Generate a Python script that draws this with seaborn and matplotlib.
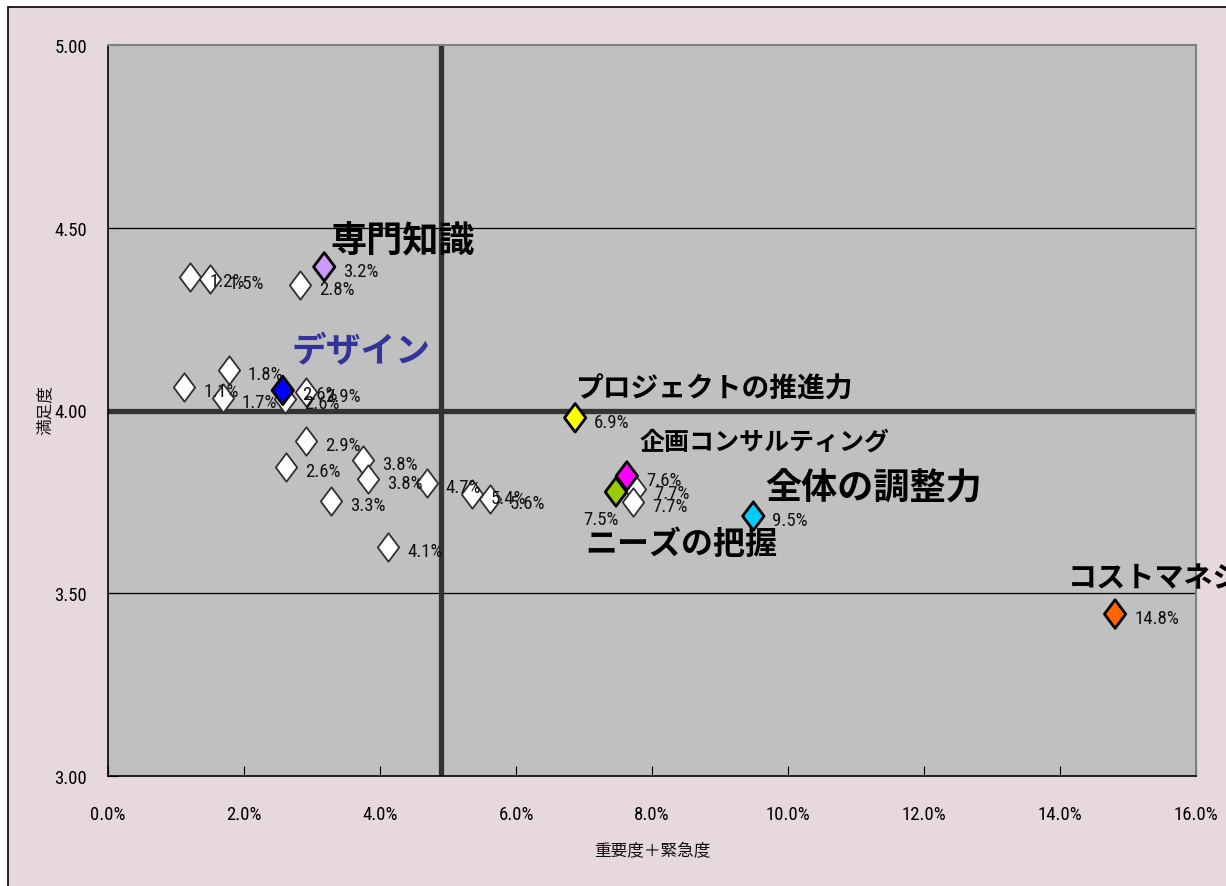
import numpy as np
import pandas as pd
import matplotlib
matplotlib.use("Agg")
import matplotlib.pyplot as plt
from matplotlib.path import Path
from matplotlib.markers import MarkerStyle
from matplotlib.patches import Rectangle
import matplotlib.ticker as mticker
from matplotlib import font_manager
import seaborn as sns

# ---------------- data ----------------
labels = ["1.2%", "1.5%", "2.8%", "3.2%", "1.8%", "1.1%", "1.7%", "2.6%", "2.6%", "2.9%",
          "2.9%", "2.6%", "3.8%", "3.8%", "3.3%", "4.7%", "5.4%", "5.6%", "4.1%",
          "6.9%", "7.6%", "7.5%", "7.7%", "7.7%", "9.5%", "14.8%"]
x_vals = [1.21, 1.50, 2.82, 3.18, 1.78, 1.12, 1.69, 2.57, 2.60, 2.91,
          2.91, 2.62, 3.75, 3.82, 3.28, 4.69, 5.35, 5.62, 4.12,
          6.87, 7.63, 7.47, 7.75, 7.72, 9.49, 14.81]
y_vals = [4.365, 4.360, 4.343, 4.393, 4.110, 4.064, 4.034, 4.055, 4.031, 4.050,
          3.917, 3.845, 3.865, 3.813, 3.752, 3.802, 3.772, 3.758, 3.627,
          3.980, 3.821, 3.777, 3.785, 3.750, 3.711, 3.443]
groups = ["その他", "その他", "その他", "専門知識", "その他", "その他", "その他", "デザイン", "その他", "その他",
          "その他", "その他", "その他", "その他", "その他", "その他", "その他", "その他", "その他",
          "プロジェクトの推進力", "企画コンサルティング", "ニーズの把握", "その他", "その他",
          "全体の調整力", "コストマネジメント"]
group_colors = {"その他": "#FFFFFF", "専門知識": "#CC99FF", "デザイン": "#0000FF",
                "プロジェクトの推進力": "#FFFF00", "企画コンサルティング": "#FF00FF",
                "ニーズの把握": "#99CC00", "全体の調整力": "#00CCFF",
                "コストマネジメント": "#FF6600"}
big_label_color = {"デザイン": "#333399"}
x_ref = 4.9
y_ref = 4.0
x_ticks = [0, 2, 4, 6, 8, 10, 12, 14, 16]
y_ticks = [3.0, 3.5, 4.0, 4.5, 5.0]

df = pd.DataFrame({"x": x_vals, "y": y_vals, "label": labels, "group": groups})

# ---------------- style ----------------
sns.set_theme(style="white")
avail = {f.name for f in font_manager.fontManager.ttflist}
narrow_candidates = ["Liberation Sans Narrow", "DejaVu Sans Condensed", "Roboto Condensed",
                     "Open Sans Condensed"]
narrow = [f for f in narrow_candidates if f in avail] + ["DejaVu Sans"]
cond_faces = [f for f in font_manager.fontManager.ttflist
              if f.name == "DejaVu Sans" and f.stretch == "condensed"]
stretch = "condensed" if (len(narrow) == 1 and cond_faces) else "normal"
cjk = ["Noto Sans CJK JP", "DejaVu Sans"]
plt.rcParams["font.family"] = narrow
plt.rcParams["font.stretch"] = stretch
num_fs = 13.5 if len(narrow) > 1 or stretch == "condensed" else 11

W, H = 1226, 887
fig = plt.figure(figsize=(W / 100, H / 100), dpi=100, facecolor="white")
fig.patches.append(Rectangle((8 / W, -0.1), 1.2, 1 - 8 / H + 0.1, transform=fig.transFigure,
                             facecolor="#E6D8DC", edgecolor="black", linewidth=1.2, zorder=-10))

ax = fig.add_axes([108 / W, 1 - 777 / H, (1196 - 108) / W, (777 - 46) / H])
ax.set_facecolor("#C0C0C0")

# tall diamond marker
diamond = MarkerStyle(Path([(0, 1), (0.75, 0), (0, -1), (-0.75, 0), (0, 1)],
                           [Path.MOVETO, Path.LINETO, Path.LINETO, Path.LINETO, Path.CLOSEPOLY]))

# reference lines and grid
for yv in [3.5, 4.5]:
    ax.axhline(yv, color="black", lw=0.9, zorder=1)
ax.axhline(y_ref, color="#333333", lw=3.8, zorder=2)
ax.axvline(x_ref, color="#333333", lw=3.8, zorder=2)

others = df[df.group == "その他"]
hl = df[df.group != "その他"]
sns.scatterplot(data=others, x="x", y="y", marker=diamond, s=420, color="white",
                edgecolor="#303030", linewidth=1.3, ax=ax, zorder=3, legend=False)
sns.scatterplot(data=hl, x="x", y="y", hue="group", palette=group_colors, marker=diamond, s=420,
                edgecolor="black", linewidth=2.0, ax=ax, zorder=4, legend=False)

# percentage labels
for _, r in df.iterrows():
    if r.label == "7.5%" and r.group == "ニーズの把握":
        ax.annotate(r.label, (r.x, r.y), xytext=(3, -27), textcoords="offset pixels",
                    ha="right", va="center", fontsize=num_fs, family=narrow, stretch=stretch,
                    color="#111111", zorder=5)
    else:
        ax.annotate(r.label, (r.x, r.y), xytext=(19, -4), textcoords="offset pixels",
                    ha="left", va="center", fontsize=num_fs, family=narrow, stretch=stretch,
                    color="#111111", zorder=5)

# big category labels
big = {"専門知識": ((6, 26), 26), "デザイン": ((9, 41), 25),
       "プロジェクトの推進力": ((0, 29), 20), "企画コンサルティング": ((13, 34), 18),
       "全体の調整力": ((12, 29), 26), "ニーズの把握": ((-31, -52), 23),
       "コストマネジメント": ((-47, 37), 21)}
for _, r in hl.iterrows():
    off, fs = big[r.group]
    ax.annotate(r.group, (r.x, r.y), xytext=off, textcoords="offset pixels",
                ha="left", va="center", fontsize=fs, fontweight="bold", family=cjk,
                color=big_label_color.get(r.group, "black"), zorder=6, annotation_clip=False)

ax.set_xlim(0, 16)
ax.set_ylim(3, 5)
ax.set_xticks(x_ticks)
ax.set_yticks(y_ticks)
ax.xaxis.set_major_formatter(mticker.FuncFormatter(lambda v, p: f"{v:.1f}%"))
ax.yaxis.set_major_formatter(mticker.FuncFormatter(lambda v, p: f"{v:.2f}"))
ax.tick_params(axis="both", direction="in", length=7, width=0.8, color="black",
               labelsize=num_fs, labelcolor="black")
ax.tick_params(axis="x", pad=21, bottom=True)
ax.tick_params(axis="y", pad=15, left=True)
for t in ax.get_xticklabels() + ax.get_yticklabels():
    t.set_family(narrow)
    t.set_stretch(stretch)

for side in ["left", "bottom"]:
    ax.spines[side].set_color("black")
    ax.spines[side].set_linewidth(1.2)
for side in ["top", "right"]:
    ax.spines[side].set_color("#808080")
    ax.spines[side].set_linewidth(1.5)

ax.set_xlabel("重要度＋緊急度", fontsize=12, family=cjk, color="#111111")
ax.set_ylabel("満足度", fontsize=12, family=cjk, color="#111111")
ax.xaxis.set_label_coords(0.5, -(843 - 777) / 731)
ax.yaxis.set_label_coords((54 - 108) / 1088, (777 - 410) / 731)

fig.savefig("out.png", dpi=100, facecolor="white")
